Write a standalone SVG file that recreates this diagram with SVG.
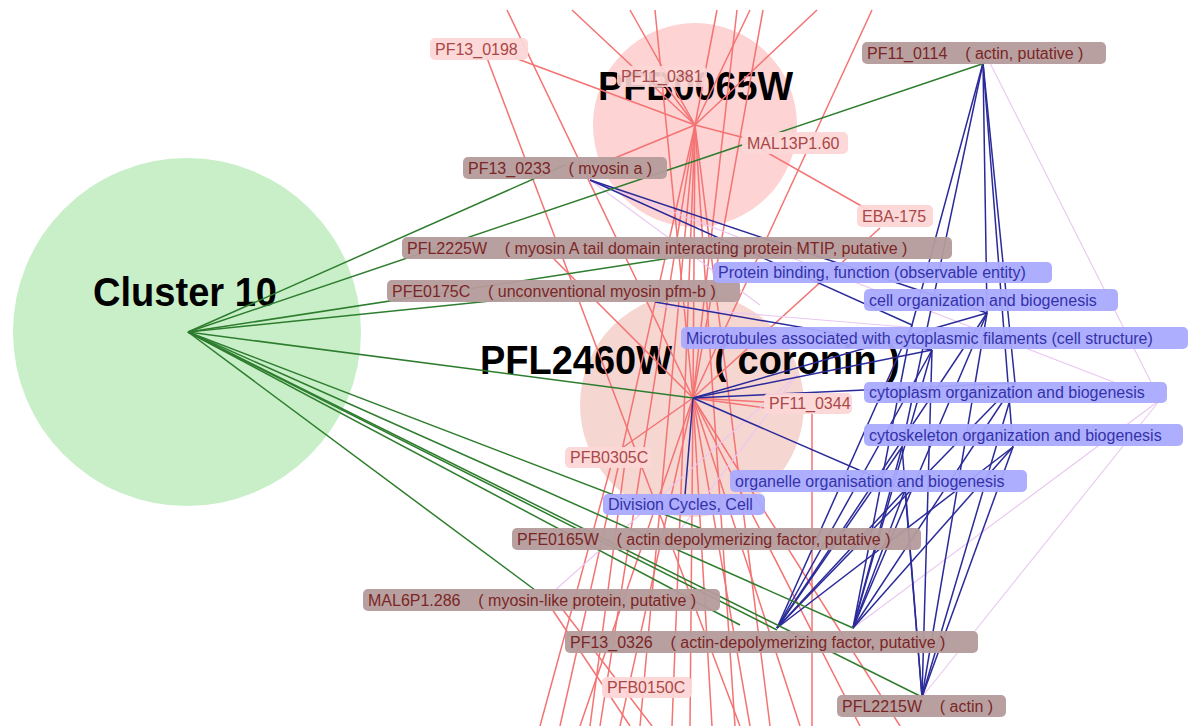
<svg xmlns="http://www.w3.org/2000/svg" width="1198" height="726" viewBox="0 0 1198 726" xml:space="preserve">
<style>
.r{stroke:#f47373;stroke-width:1.5}
.b{stroke:#2a2a9a;stroke-width:1.5}
.g{stroke:#2e7d2e;stroke-width:1.5}
.l{stroke:#ebc6f2;stroke-width:1.1}
.t{font-family:"Liberation Sans",Arial,sans-serif;font-size:16px;white-space:pre}
.big{font-family:"Liberation Sans",Arial,sans-serif;font-weight:bold;font-size:40px;fill:#000;white-space:pre}
.bn rect{fill:#b59b9b;opacity:0.95}
.bn text{fill:#7a2626}
.pn rect{fill:#fdd6d6;opacity:0.95}
.pn text{fill:#a84848}
.gn rect{fill:#aaaaff;opacity:0.95}
.gn text{fill:#3333a8}
</style>
<rect width="1198" height="726" fill="#fff"/>
<g id="cluster10">
<circle cx="187" cy="332" r="174" fill="#c9efc9"/>
<text class="big" x="93" y="306" textLength="184" lengthAdjust="spacingAndGlyphs">Cluster 10</text>
</g>
<g id="PFB0065W">
<circle cx="695" cy="125" r="102" fill="#fdd3d3"/>
<text class="big" x="598" y="100" textLength="195" lengthAdjust="spacingAndGlyphs">PFB0065W</text>
</g>
<g id="PFL2460W">
<circle cx="692" cy="405" r="112" fill="#f6d6d1"/>
<text class="big" x="480" y="374" textLength="420" lengthAdjust="spacingAndGlyphs">PFL2460W    ( coronin )</text>
</g>
<g id="connectors">
<g id="red-edges" class="r">
<line x1="695" y1="125" x2="572" y2="10"/>
<line x1="695" y1="125" x2="630" y2="10"/>
<line x1="695" y1="125" x2="717" y2="10"/>
<line x1="695" y1="125" x2="750" y2="10"/>
<line x1="695" y1="125" x2="817" y2="10"/>
<line x1="695" y1="125" x2="515" y2="58"/>
<line x1="695" y1="125" x2="660" y2="78"/>
<line x1="695" y1="125" x2="745" y2="138"/>
<line x1="695" y1="125" x2="610" y2="160"/>
<line x1="695" y1="125" x2="693" y2="398"/>
<line x1="695" y1="125" x2="600" y2="726"/>
<line x1="695" y1="125" x2="640" y2="726"/>
<line x1="695" y1="125" x2="672" y2="726"/>
<line x1="695" y1="125" x2="735" y2="726"/>
<line x1="695" y1="125" x2="770" y2="726"/>
<line x1="695" y1="125" x2="560" y2="726"/>
<line x1="693" y1="398" x2="507" y2="10"/>
<line x1="693" y1="398" x2="655" y2="10"/>
<line x1="693" y1="398" x2="737" y2="10"/>
<line x1="693" y1="398" x2="763" y2="10"/>
<line x1="693" y1="398" x2="872" y2="10"/>
<line x1="693" y1="398" x2="612" y2="455"/>
<line x1="693" y1="398" x2="765" y2="402"/>
<line x1="693" y1="398" x2="765" y2="408"/>
<line x1="693" y1="398" x2="880" y2="228"/>
<line x1="693" y1="398" x2="580" y2="726"/>
<line x1="693" y1="398" x2="620" y2="726"/>
<line x1="693" y1="398" x2="690" y2="726"/>
<line x1="693" y1="398" x2="712" y2="726"/>
<line x1="693" y1="398" x2="750" y2="726"/>
<line x1="693" y1="398" x2="800" y2="726"/>
<line x1="693" y1="398" x2="860" y2="726"/>
<line x1="693" y1="398" x2="900" y2="726"/>
<line x1="693" y1="398" x2="545" y2="250"/>
<line x1="745" y1="140" x2="872" y2="212"/>
<line x1="487" y1="58" x2="740" y2="726"/>
<line x1="812" y1="413" x2="812" y2="726"/>
<line x1="550" y1="606" x2="630" y2="726"/>
<line x1="560" y1="606" x2="652" y2="726"/>
<line x1="612" y1="462" x2="540" y2="726"/>
<line x1="625" y1="462" x2="590" y2="726"/>
</g>
<g id="lavender-edges" class="l">
<line x1="990" y1="63" x2="1160" y2="400"/>
<line x1="1160" y1="400" x2="853" y2="628"/>
<line x1="1160" y1="400" x2="922" y2="697"/>
<line x1="590" y1="180" x2="1160" y2="400"/>
<line x1="590" y1="180" x2="760" y2="305"/>
<line x1="655" y1="306" x2="1000" y2="335"/>
<line x1="553" y1="592" x2="797" y2="375"/>
<line x1="665" y1="550" x2="797" y2="375"/>
</g>
<g id="blue-edges" class="b">
<line x1="983" y1="63" x2="912" y2="325"/>
<line x1="983" y1="63" x2="902" y2="447"/>
<line x1="983" y1="63" x2="987" y2="313"/>
<line x1="983" y1="63" x2="1015" y2="383"/>
<line x1="983" y1="63" x2="1013" y2="447"/>
<line x1="590" y1="180" x2="987" y2="313"/>
<line x1="590" y1="180" x2="912" y2="325"/>
<line x1="655" y1="302" x2="932" y2="350"/>
<line x1="693" y1="398" x2="685" y2="495"/>
<line x1="693" y1="398" x2="1015" y2="383"/>
<line x1="693" y1="398" x2="905" y2="490"/>
<line x1="693" y1="398" x2="932" y2="350"/>
<line x1="693" y1="398" x2="987" y2="313"/>
<line x1="777" y1="628" x2="987" y2="313"/>
<line x1="777" y1="628" x2="932" y2="350"/>
<line x1="777" y1="628" x2="1015" y2="383"/>
<line x1="777" y1="628" x2="1013" y2="447"/>
<line x1="777" y1="628" x2="902" y2="447"/>
<line x1="777" y1="628" x2="912" y2="325"/>
<line x1="777" y1="628" x2="905" y2="490"/>
<line x1="853" y1="628" x2="987" y2="313"/>
<line x1="853" y1="628" x2="932" y2="350"/>
<line x1="853" y1="628" x2="1015" y2="383"/>
<line x1="853" y1="628" x2="1013" y2="447"/>
<line x1="853" y1="628" x2="902" y2="447"/>
<line x1="853" y1="628" x2="912" y2="325"/>
<line x1="853" y1="628" x2="905" y2="490"/>
<line x1="922" y1="697" x2="987" y2="313"/>
<line x1="922" y1="697" x2="932" y2="350"/>
<line x1="922" y1="697" x2="1015" y2="383"/>
<line x1="922" y1="697" x2="1013" y2="447"/>
<line x1="922" y1="697" x2="902" y2="447"/>
<line x1="922" y1="697" x2="905" y2="490"/>
</g>
<g id="green-edges" class="g">
<line x1="188" y1="332" x2="985" y2="63"/>
<line x1="188" y1="332" x2="565" y2="165"/>
<line x1="188" y1="332" x2="690" y2="255"/>
<line x1="188" y1="332" x2="560" y2="294"/>
<line x1="188" y1="332" x2="693" y2="398"/>
<line x1="188" y1="332" x2="700" y2="528"/>
<line x1="188" y1="332" x2="853" y2="628"/>
<line x1="188" y1="332" x2="777" y2="630"/>
<line x1="188" y1="332" x2="922" y2="697"/>
<line x1="188" y1="332" x2="740" y2="625"/>
<line x1="188" y1="332" x2="535" y2="590"/>
</g>
</g>
<g id="PF11_0114" class="bn"><rect x="862" y="42" width="244" height="22" rx="5"/><text class="t" x="867" y="58.5">PF11_0114    ( actin, putative )</text></g>
<g id="PF13_0233" class="bn"><rect x="463" y="157" width="204" height="22" rx="5"/><text class="t" x="468" y="173.5">PF13_0233    ( myosin a )</text></g>
<g id="PFL2225W" class="bn"><rect x="402" y="237" width="550" height="22" rx="5"/><text class="t" x="407" y="253.5">PFL2225W    ( myosin A tail domain interacting protein MTIP, putative )</text></g>
<g id="PFE0175C" class="bn"><rect x="387" y="280" width="353" height="22" rx="5"/><text class="t" x="392" y="296.5">PFE0175C    ( unconventional myosin pfm-b )</text></g>
<g id="PF13_0198" class="pn"><rect x="430" y="38" width="98" height="22" rx="5"/><text class="t" x="435" y="54.5">PF13_0198</text></g>
<g id="PF11_0381" class="pn"><rect x="617" y="66" width="90" height="21" rx="5" style="opacity:0.9"/><text class="t" x="621" y="81.5">PF11_0381</text></g>
<g id="MAL13P1.60" class="pn"><rect x="742" y="132" width="106" height="22" rx="5"/><text class="t" x="747" y="148.5">MAL13P1.60</text></g>
<g id="EBA-175" class="pn"><rect x="857" y="205" width="76" height="22" rx="5"/><text class="t" x="862" y="221.5">EBA-175</text></g>
<g id="ProteinBinding" class="gn"><rect x="713" y="262" width="339" height="21" rx="5"/><text class="t" x="718" y="278">Protein binding, function (observable entity)</text></g>
<g id="CellOrganization" class="gn"><rect x="864" y="289" width="254" height="22" rx="5"/><text class="t" x="869" y="305.5">cell organization and biogenesis</text></g>
<g id="Microtubules" class="gn"><rect x="681" y="327" width="507" height="22" rx="5"/><text class="t" x="686" y="343.5">Microtubules associated with cytoplasmic filaments (cell structure)</text></g>
<g id="CytoplasmOrganization" class="gn"><rect x="864" y="382" width="303" height="21" rx="5"/><text class="t" x="869" y="398">cytoplasm organization and biogenesis</text></g>
<g id="CytoskeletonOrganization" class="gn"><rect x="864" y="424" width="319" height="22" rx="5"/><text class="t" x="869" y="440.5">cytoskeleton organization and biogenesis</text></g>
<g id="PF11_0344" class="pn"><rect x="764" y="393" width="88" height="21" rx="5"/><text class="t" x="769" y="409">PF11_0344</text></g>
<g id="PFB0305C" class="pn"><rect x="565" y="447" width="86" height="21" rx="5"/><text class="t" x="570" y="463">PFB0305C</text></g>
<g id="OrganelleOrganisation" class="gn"><rect x="730" y="470" width="297" height="22" rx="5"/><text class="t" x="735" y="486.5">organelle organisation and biogenesis</text></g>
<g id="DivisionCycles" class="gn"><rect x="603" y="494" width="162" height="21" rx="5"/><text class="t" x="608" y="510">Division Cycles, Cell</text></g>
<g id="PFE0165W" class="bn"><rect x="512" y="528" width="409" height="22" rx="5"/><text class="t" x="517" y="544.5">PFE0165W    ( actin depolymerizing factor, putative )</text></g>
<g id="MAL6P1.286" class="bn"><rect x="363" y="589" width="357" height="22" rx="5"/><text class="t" x="368" y="605.5">MAL6P1.286    ( myosin-like protein, putative )</text></g>
<g id="PF13_0326" class="bn"><rect x="565" y="631" width="413" height="22" rx="5"/><text class="t" x="570" y="647.5">PF13_0326    ( actin-depolymerizing factor, putative )</text></g>
<g id="PFB0150C" class="pn"><rect x="602" y="677" width="90" height="21" rx="5"/><text class="t" x="607" y="693">PFB0150C</text></g>
<g id="PFL2215W" class="bn"><rect x="837" y="695" width="169" height="22" rx="5"/><text class="t" x="842" y="711.5">PFL2215W    ( actin )</text></g>
</svg>
